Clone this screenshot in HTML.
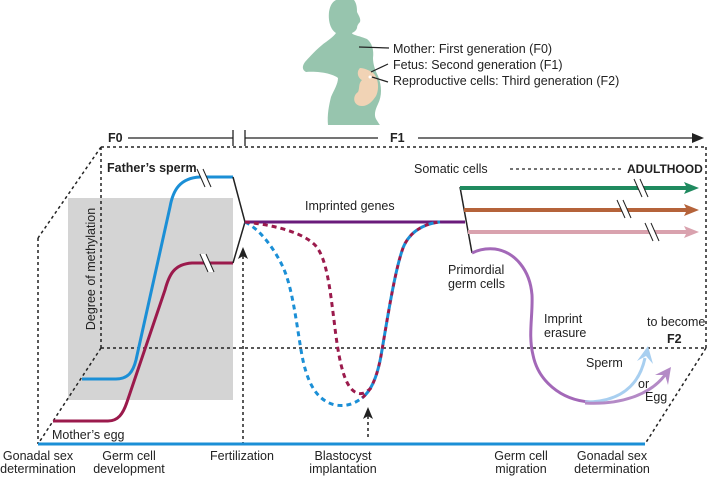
<!DOCTYPE html>
<html><head><meta charset="utf-8"><style>
html,body{margin:0;padding:0;background:#fff;}
svg{display:block;}
text{font-family:"Liberation Sans",Arial,sans-serif;fill:#222;font-size:12.5px;}
.b{font-weight:bold;}
</style></head><body>
<svg width="708" height="477" viewBox="0 0 708 477" xmlns="http://www.w3.org/2000/svg">
<!-- silhouette -->
<path d="M336,0 L354,0 C357,4 357,9 357,12 C359,16 361,19 360,22 C358,24 357,26 357,28 C356,31 354,32 352,33 C352,35 360,36 367,39 C372,43 374,50 373,58 C373,64 375,70 378,76 C382,86 382,96 378,104 C375,110 374,115 376,119 C378,122 379,124 380,125 L328,125 C327,115 329,105 331,97 C334,90 338,84 338,78 C333,74 320,71 306,72 C302,70 302,66 305,62 C312,54 320,46 326,42 C330,39 334,36 336,33 C331,30 328,22 329,12 C330,6 332,2 336,0 Z" fill="#97c5ae"/>
<path d="M360,68 C356,72 358,78 362,80 C358,84 360,88 358,92 C352,96 353,106 362,106 C368,106 372,102 376,96 C380,88 378,76 372,72 C368,70 364,68 360,68 Z" fill="#f1d3b5"/>
<circle cx="370" cy="77" r="1.5" fill="#fff"/>
<g stroke="#222" stroke-width="1.2">
<line x1="359" y1="47" x2="389" y2="48"/>
<line x1="371" y1="72" x2="388" y2="64"/>
<line x1="372" y1="77" x2="388" y2="82"/>
</g>
<text x="393" y="53">Mother: First generation (F0)</text>
<text x="393" y="69">Fetus: Second generation (F1)</text>
<text x="393" y="85">Reproductive cells: Third generation (F2)</text>

<!-- timeline -->
<text x="108" y="142" class="b">F0</text>
<g stroke="#222" stroke-width="1.3">
<line x1="128" y1="138" x2="233" y2="138"/>
<line x1="233" y1="130" x2="233" y2="146"/>
<line x1="245" y1="130" x2="245" y2="146"/>
<line x1="245" y1="138" x2="378" y2="138"/>
<line x1="418" y1="138" x2="695" y2="138"/>
</g>
<polygon points="704,138 692,133 692,143" fill="#222"/>
<text x="390" y="142" class="b">F1</text>

<!-- gray box -->
<rect x="68" y="198" width="165" height="202" fill="#d4d4d4"/>

<!-- dashed box -->
<g stroke="#222" stroke-width="1.5" stroke-dasharray="3 3" fill="none">
<line x1="101" y1="147" x2="706" y2="147"/>
<line x1="101" y1="147" x2="101" y2="348"/>
<line x1="101" y1="147" x2="38" y2="238"/>
<line x1="38" y1="238" x2="38" y2="444"/>
<line x1="101" y1="348" x2="38" y2="444"/>
<line x1="101" y1="348" x2="706" y2="348"/>
<line x1="706" y1="147" x2="706" y2="348"/>
<line x1="706" y1="348" x2="645" y2="444"/>
<line x1="243" y1="256" x2="243" y2="443"/>
<line x1="368" y1="416" x2="368" y2="440"/>
</g>
<polygon points="243,247 238,259 243,256 248,259" fill="#222"/>
<polygon points="368,407 363,419 368,416 373,419" fill="#222"/>

<!-- bottom blue line -->
<line x1="38" y1="444" x2="645" y2="444" stroke="#1b8fd6" stroke-width="3"/>

<!-- methylation curves -->
<path d="M82,379 L116,379 C128,379 133,372 136,360 L170,207 C173,190 180,178 200,177 L233,177" fill="none" stroke="#1b8fd6" stroke-width="3"/>
<path d="M53,421 L108,421 C118,421 123,414 127,402 L165,290 C169,275 174,264 192,263 L233,263" fill="none" stroke="#9b1a4c" stroke-width="3"/>
<path d="M233,177 L245,222 L233,263" fill="none" stroke="#222" stroke-width="1.5"/>
<line x1="245" y1="222" x2="465" y2="222" stroke="#6a1b7b" stroke-width="3"/>

<!-- dashed dips -->
<g fill="none" stroke-width="3" stroke-dasharray="5 4">
<path d="M245,222 C258,228 272,245 282,265 C292,285 296,320 301,350 C306,380 315,400 335,405 C348,407 355,403 362,398" stroke="#1b8fd6"/>
<path d="M245,222 C265,224 300,230 315,245 C327,258 330,290 334,320 C338,355 343,385 355,392 C362,396 367,392 372,387" stroke="#9b1a4c"/>
<path d="M362,398 C372,390 378,375 382,350 C388,315 395,270 403,248 C408,235 420,224 440,222" stroke="#9b1a4c"/>
<path d="M362,398 C372,390 378,375 382,350 C388,315 395,270 403,248 C408,235 420,224 440,222" stroke="#1b8fd6" stroke-dashoffset="4.5"/>
</g>

<!-- somatic cells -->
<path d="M460,187 L472,253" stroke="#222" stroke-width="1.5"/>
<line x1="460" y1="188" x2="688" y2="188" stroke="#1f8a5f" stroke-width="4"/>
<polygon points="699,188 684,182 687,188 684,194" fill="#1f8a5f"/>
<line x1="464" y1="210" x2="688" y2="210" stroke="#b5633a" stroke-width="4"/>
<polygon points="699,210 684,204 687,210 684,216" fill="#b5633a"/>
<line x1="468" y1="232" x2="688" y2="232" stroke="#d9a2ae" stroke-width="4"/>
<polygon points="699,232 684,226 687,232 684,238" fill="#d9a2ae"/>

<!-- slash marks -->
<g>
<polygon points="197,169 203,169 211,187 205,187" fill="#fff"/>
<line x1="197" y1="169" x2="205" y2="187" stroke="#222" stroke-width="1"/>
<line x1="203" y1="169" x2="211" y2="187" stroke="#222" stroke-width="1"/>
<polygon points="200,254 206,254 214,272 208,272" fill="#fff"/>
<line x1="200" y1="254" x2="208" y2="272" stroke="#222" stroke-width="1"/>
<line x1="206" y1="254" x2="214" y2="272" stroke="#222" stroke-width="1"/>
<polygon points="634,179 640,179 648,197 642,197" fill="#fff"/>
<line x1="634" y1="179" x2="642" y2="197" stroke="#222" stroke-width="1"/>
<line x1="640" y1="179" x2="648" y2="197" stroke="#222" stroke-width="1"/>
<polygon points="617,200 623,200 631,218 625,218" fill="#fff"/>
<line x1="617" y1="200" x2="625" y2="218" stroke="#222" stroke-width="1"/>
<line x1="623" y1="200" x2="631" y2="218" stroke="#222" stroke-width="1"/>
<polygon points="645,223 651,223 659,241 653,241" fill="#fff"/>
<line x1="645" y1="223" x2="653" y2="241" stroke="#222" stroke-width="1"/>
<line x1="651" y1="223" x2="659" y2="241" stroke="#222" stroke-width="1"/>
</g>

<!-- germ cells curve -->
<path d="M472,253 C478,250 485,248 495,249 C515,252 530,270 532,295 C533,315 528,335 533,355 C538,380 560,400 590,402" fill="none" stroke="#a368b8" stroke-width="3"/>
<path d="M585,402 C615,402 638,390 645,358" fill="none" stroke="#a8cff0" stroke-width="3"/>
<polygon points="648,346 637,361 646,356 653,364" fill="#a8cff0"/>
<path d="M585,403 C620,405 650,395 665,375" fill="none" stroke="#b48ac6" stroke-width="3"/>
<polygon points="671,367 655,375 665,375 668,385" fill="#b48ac6"/>

<line x1="510" y1="169" x2="623" y2="169" stroke="#222" stroke-width="1.3" stroke-dasharray="3 3"/>

<!-- labels -->
<text x="107" y="172" class="b">Father’s sperm</text>
<text x="305" y="210">Imprinted genes</text>
<text x="414" y="173">Somatic cells</text>
<text x="627" y="173" class="b" style="font-size:12px">ADULTHOOD</text>
<text x="448" y="274">Primordial</text>
<text x="448" y="288">germ cells</text>
<text x="544" y="323">Imprint</text>
<text x="544" y="337">erasure</text>
<text x="647" y="326">to become</text>
<text x="667" y="343" class="b">F2</text>
<text x="586" y="367">Sperm</text>
<text x="638" y="388">or</text>
<text x="645" y="401">Egg</text>
<text x="52" y="439">Mother’s egg</text>
<text transform="translate(95,269) rotate(-90)" text-anchor="middle">Degree of methylation</text>

<g text-anchor="middle">
<text x="38" y="460">Gonadal sex</text>
<text x="38" y="473">determination</text>
<text x="129" y="460">Germ cell</text>
<text x="129" y="473">development</text>
<text x="242" y="460">Fertilization</text>
<text x="343" y="460">Blastocyst</text>
<text x="343" y="473">implantation</text>
<text x="521" y="460">Germ cell</text>
<text x="521" y="473">migration</text>
<text x="612" y="460">Gonadal sex</text>
<text x="612" y="473">determination</text>
</g>
</svg>
</body></html>
